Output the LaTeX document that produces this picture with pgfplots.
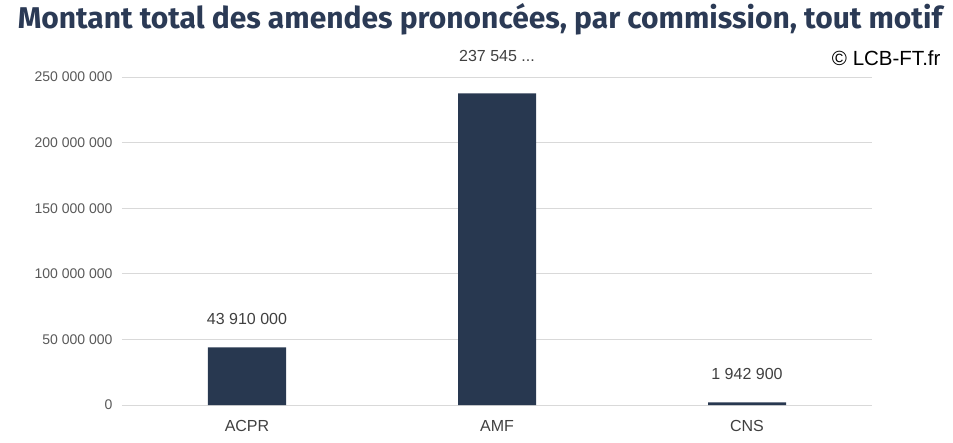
\documentclass[border=0pt]{standalone}
\usepackage{pgfplots}
\usepackage{pgfplotstable}
\pgfplotsset{compat=1.18}
\usepackage{fontspec}
\setmainfont{Liberation Sans}
\newfontfamily\titlefont{Fira Sans}
\definecolor{navy}{HTML}{283850}
\definecolor{titlenavy}{HTML}{2B3A55}
\definecolor{gridgrey}{HTML}{D9D9D9}
\definecolor{ticktext}{HTML}{595959}
\definecolor{cattext}{HTML}{404040}

\pgfplotstableread{
x y off lab
0 43910000 28 {43 910 000}
1 237545000 37 {237 545 ...}
2 1942900 28 {1 942 900}
}\amendes

\begin{document}
\begin{tikzpicture}
\begin{axis}[
  scale only axis,
  width=750pt, height=328pt,
  xmin=-0.5, xmax=2.5,
  ymin=0, ymax=250000000,
  scaled y ticks=false,
  axis line style={draw=none},
  major tick length=0pt,
  xtick={0,1,2},
  xticklabels={ACPR,AMF,CNS},
  ytick={0,50000000,100000000,150000000,200000000,250000000},
  yticklabels={0,50 000 000,100 000 000,150 000 000,200 000 000,250 000 000},
  ymajorgrids,
  grid style={gridgrey, line width=0.8pt},
  x tick label style={font=\fontsize{16}{18}\selectfont, text=cattext, yshift=-12pt},
  y tick label style={font=\fontsize{14}{16}\selectfont, text=ticktext, xshift=-6pt},
  clip=false,
]
\addplot[ybar, bar width=78pt, fill=navy, draw=none,
  visualization depends on={\thisrow{off} \as \myoff},
  nodes near coords={\pgfplotspointmeta},
  point meta=explicit symbolic,
  every node near coord/.append style={anchor=center, yshift=\myoff pt,
    font=\fontsize{16}{18}\selectfont, text=cattext},
] table[x=x, y=y, meta=lab] {\amendes};
\end{axis}
\node[font=\titlefont\bfseries\fontsize{30}{34}\selectfont, text=titlenavy, anchor=center]
  at ([shift={(358pt,386pt)}]current axis.south west) {Montant total des amendes prononcées, par commission, tout motif};
\node[font=\fontsize{20.5}{24}\selectfont, text=black, anchor=east]
  at ([shift={(822pt,347pt)}]current axis.south west) {© LCB-FT.fr};
\pgfresetboundingbox
\path ([shift={(-122pt,-37pt)}]current axis.south west) rectangle ++(953pt,442pt);
\end{tikzpicture}
\end{document}
